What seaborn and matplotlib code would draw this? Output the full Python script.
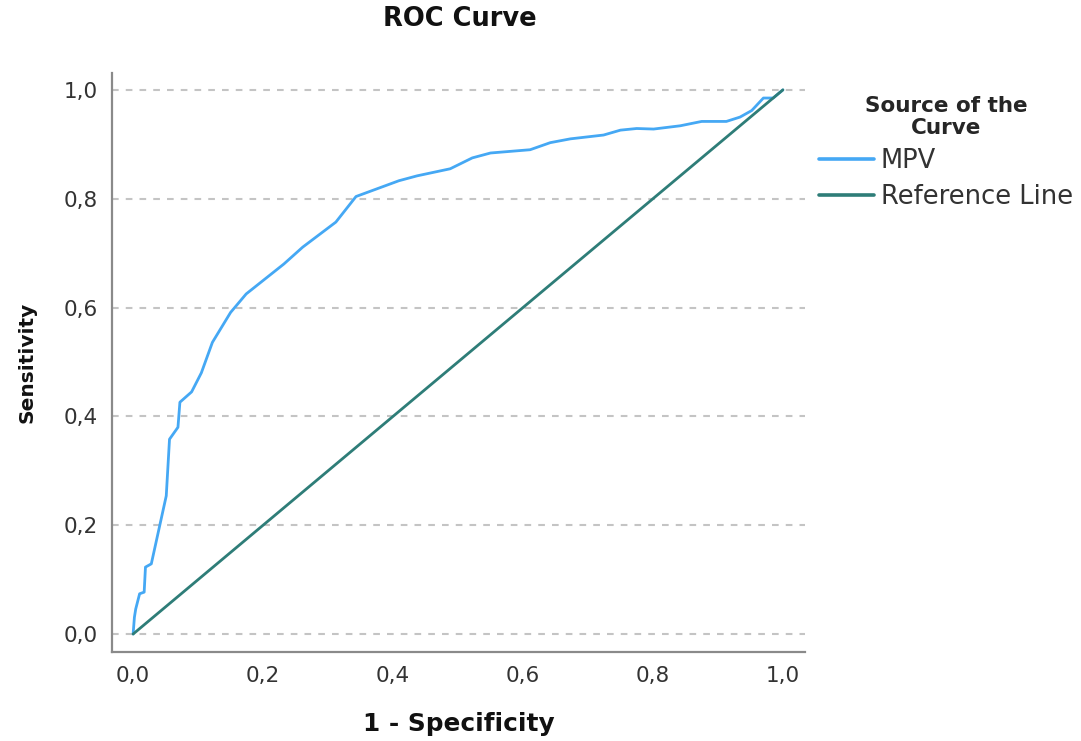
import matplotlib
matplotlib.use("Agg")
import matplotlib.pyplot as plt
import seaborn as sns
import pandas as pd
from matplotlib.lines import Line2D

# ---- data ----
fpr = [0.0, 0.002, 0.004, 0.007, 0.010, 0.017, 0.019, 0.028, 0.051, 0.056,
       0.069, 0.072, 0.090, 0.105, 0.122, 0.150, 0.174, 0.232, 0.261, 0.312,
       0.343, 0.409, 0.437, 0.488, 0.522, 0.550, 0.611, 0.642, 0.673, 0.724,
       0.750, 0.775, 0.801, 0.842, 0.875, 0.913, 0.934, 0.952, 0.970, 0.985, 1.0]
tpr = [0.0, 0.031, 0.046, 0.060, 0.074, 0.077, 0.123, 0.129, 0.254, 0.358,
       0.380, 0.426, 0.445, 0.480, 0.536, 0.591, 0.625, 0.680, 0.711, 0.757,
       0.804, 0.833, 0.842, 0.855, 0.875, 0.884, 0.890, 0.903, 0.910, 0.917,
       0.926, 0.929, 0.928, 0.934, 0.942, 0.942, 0.950, 0.962, 0.985, 0.985, 1.0]
ref_x = [0.0, 1.0]
ref_y = [0.0, 1.0]
tick_values = [0.0, 0.2, 0.4, 0.6, 0.8, 1.0]
tick_labels = ["0,0", "0,2", "0,4", "0,6", "0,8", "1,0"]
series_names = ["MPV", "Reference Line"]

df = pd.concat([
    pd.DataFrame({"x": fpr, "y": tpr, "src": series_names[0], "o": range(len(fpr))}),
    pd.DataFrame({"x": ref_x, "y": ref_y, "src": series_names[1], "o": range(len(ref_x))}),
])

sns.set_theme(style="white")
plt.rcParams["font.family"] = ["DejaVu Sans"]

fig = plt.figure(figsize=(10.81, 7.41), dpi=100)
ax = fig.add_axes([112/1081, 1-652/741, (805-112)/1081, (652-73)/741])

palette = {"MPV": "#45a8f4", "Reference Line": "#2e7d78"}
sns.lineplot(data=df, x="x", y="y", hue="src", palette=palette, sort=False,
             estimator=None, units="src", linewidth=2.0, ax=ax, legend=False)

ax.set_xlim(-0.0325, 1.034)
ax.set_ylim(-0.033, 1.031)
ax.set_xticks(tick_values)
ax.set_xticklabels(tick_labels)
ax.set_yticks(tick_values)
ax.set_yticklabels(tick_labels)
ax.tick_params(axis="both", length=0, labelsize=15.5, colors="#333333")
ax.tick_params(axis="x", pad=10)
ax.tick_params(axis="y", pad=10)

ax.yaxis.grid(True, color="#c4c4c4", linewidth=1.5, linestyle=(0, (3.2, 3.4)))
ax.xaxis.grid(False)
for s in ["top", "right"]:
    ax.spines[s].set_visible(False)
for s in ["left", "bottom"]:
    ax.spines[s].set_color("#8a8a8a")
    ax.spines[s].set_linewidth(1.6)

fig.text(460/1081, 1-19/741, "ROC Curve", fontsize=18.5, fontweight="bold",
         color="#111111", ha="center", va="center")
ax.set_xlabel("1 - Specificity", fontsize=17.8, fontweight="bold", color="#111111", labelpad=19)
ax.set_ylabel("Sensitivity", fontsize=14.5, fontweight="bold", color="#111111", labelpad=20)

handles = [Line2D([], [], color=palette[n], linewidth=2.6) for n in series_names]
leg = fig.legend(handles, series_names, loc="upper center",
                 bbox_to_anchor=(946/1081, 1-96/741), frameon=False,
                 title="Source of the\nCurve", fontsize=18.5,
                 title_fontproperties={"weight": "bold", "size": 15.5},
                 handlelength=2.15, handletextpad=0.25, labelspacing=0.4,
                 borderpad=0, borderaxespad=0)
leg.get_title().set_multialignment("center")
leg.get_title().set_linespacing(1.1)
for t in leg.get_texts():
    t.set_color("#333333")

fig.savefig("out.png", dpi=100)
